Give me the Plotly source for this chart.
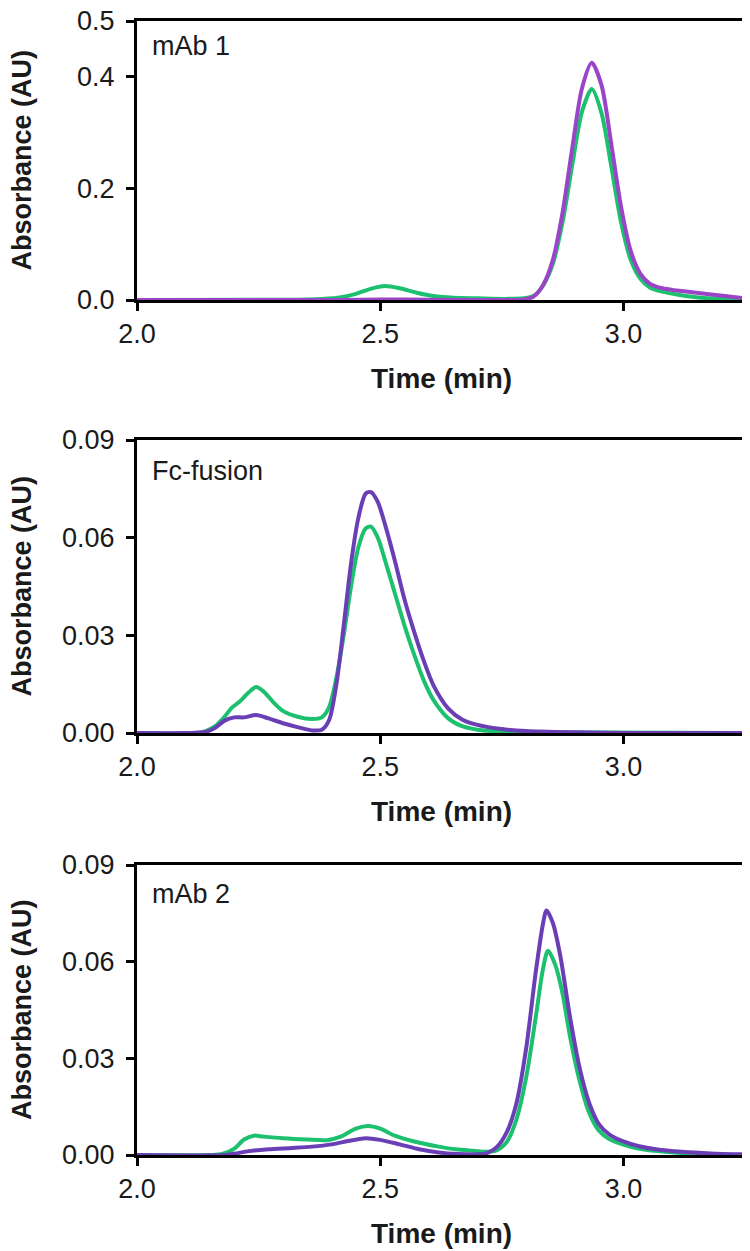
import plotly.graph_objects as go

# ---------------- data ----------------
panel_names = ["mAb 1", "Fc-fusion", "mAb 2"]

x_tickvals = [2.0, 2.5, 3.0]
x_ticktext = ["2.0", "2.5", "3.0"]
y1_tickvals = [0.0, 0.2, 0.4, 0.5]
y1_ticktext = ["0.0", "0.2", "0.4", "0.5"]
y23_tickvals = [0.0, 0.03, 0.06, 0.09]
y23_ticktext = ["0.00", "0.03", "0.06", "0.09"]

# Panel 1: mAb 1
p1_green_t = [2.00, 2.30, 2.38, 2.42, 2.45, 2.48, 2.51, 2.54, 2.575, 2.61, 2.65, 2.70, 2.76,
              2.795, 2.815, 2.835, 2.855, 2.875, 2.895, 2.915, 2.935, 2.955, 2.975, 2.995,
              3.015, 3.035, 3.055, 3.08, 3.11, 3.15, 3.20, 3.25]
p1_green_v = [0.0, 0.0005, 0.002, 0.005, 0.011, 0.020, 0.025, 0.021, 0.013, 0.007, 0.004, 0.003, 0.002,
              0.003, 0.007, 0.026, 0.065, 0.14, 0.243, 0.338, 0.378, 0.335, 0.24, 0.14,
              0.072, 0.038, 0.022, 0.015, 0.010, 0.005, 0.002, 0.001]
p1_purple_t = [2.00, 2.40, 2.50, 2.60, 2.75, 2.795, 2.815, 2.835, 2.855, 2.875, 2.895, 2.915,
               2.935, 2.955, 2.975, 2.995, 3.015, 3.035, 3.055, 3.08, 3.11, 3.15, 3.20, 3.25]
p1_purple_v = [0.0, 0.0, 0.001, 0.0005, 0.0, 0.001, 0.006, 0.027, 0.072, 0.157, 0.273, 0.38,
               0.425, 0.385, 0.28, 0.168, 0.088, 0.047, 0.029, 0.021, 0.017, 0.013, 0.008, 0.003]

# Panel 2: Fc-fusion
p2_green_t = [2.00, 2.12, 2.14, 2.16, 2.18, 2.195, 2.21, 2.23, 2.245, 2.26, 2.28, 2.30, 2.33, 2.36,
              2.38, 2.395, 2.41, 2.425, 2.44, 2.455, 2.47, 2.481, 2.495, 2.51, 2.53, 2.55, 2.57,
              2.59, 2.61, 2.64, 2.67, 2.70, 2.75, 2.80, 3.25]
p2_green_v = [0.0, 0.0, 0.0005, 0.002, 0.005, 0.0078, 0.0095, 0.0125, 0.0141, 0.0128, 0.0095, 0.0068,
              0.005, 0.0043, 0.0048, 0.008, 0.017, 0.030, 0.045, 0.057, 0.0628, 0.0634, 0.060, 0.053,
              0.043, 0.033, 0.024, 0.016, 0.010, 0.0045, 0.002, 0.001, 0.0004, 0.0002, 0.0]
p2_purple_t = [2.00, 2.10, 2.14, 2.16, 2.18, 2.20, 2.22, 2.245, 2.27, 2.30, 2.33, 2.36, 2.38, 2.395,
               2.41, 2.425, 2.44, 2.455, 2.47, 2.481, 2.495, 2.51, 2.53, 2.55, 2.57, 2.59, 2.61,
               2.64, 2.67, 2.70, 2.75, 2.80, 2.90, 3.00, 3.25]
p2_purple_v = [0.0, 0.0, 0.0003, 0.0015, 0.0038, 0.0048, 0.0048, 0.0055, 0.0045, 0.003, 0.0018, 0.0008,
               0.001, 0.004, 0.015, 0.033, 0.052, 0.066, 0.0735, 0.074, 0.071, 0.064, 0.053, 0.041,
               0.031, 0.022, 0.0145, 0.0075, 0.004, 0.0025, 0.0012, 0.0006, 0.0002, 0.0, 0.0]

# Panel 3: mAb 2
p3_green_t = [2.00, 2.15, 2.175, 2.20, 2.22, 2.24, 2.26, 2.30, 2.35, 2.39, 2.42, 2.45, 2.475, 2.50,
              2.53, 2.57, 2.62, 2.66, 2.70, 2.72, 2.74, 2.76, 2.78, 2.80, 2.82, 2.835, 2.845, 2.86,
              2.875, 2.89, 2.91, 2.93, 2.95, 2.97, 3.00, 3.03, 3.07, 3.12, 3.18, 3.25]
p3_green_v = [0.0, 0.0, 0.0003, 0.002, 0.0048, 0.006, 0.0057, 0.0052, 0.0048, 0.0046, 0.0058, 0.0082,
              0.009, 0.0082, 0.006, 0.0042, 0.0026, 0.0017, 0.0012, 0.001, 0.0015, 0.004, 0.011, 0.024,
              0.043, 0.058, 0.0634, 0.059, 0.050, 0.037, 0.023, 0.013, 0.0075, 0.005, 0.0032, 0.002,
              0.0012, 0.0006, 0.0002, 0.0]
p3_purple_t = [2.00, 2.18, 2.20, 2.23, 2.27, 2.32, 2.36, 2.40, 2.44, 2.47, 2.50, 2.54, 2.58, 2.62,
               2.66, 2.70, 2.72, 2.74, 2.76, 2.78, 2.80, 2.82, 2.835, 2.842, 2.855, 2.87, 2.89, 2.91,
               2.93, 2.95, 2.97, 3.00, 3.03, 3.07, 3.12, 3.18, 3.25]
p3_purple_v = [0.0, 0.0, 0.0004, 0.0012, 0.0018, 0.0022, 0.0026, 0.0033, 0.0045, 0.0052, 0.0047, 0.0033,
               0.0018, 0.0008, 0.0003, 0.0002, 0.0006, 0.0025, 0.007, 0.016, 0.033, 0.057, 0.072,
               0.0759, 0.072, 0.062, 0.043, 0.027, 0.016, 0.0095, 0.0065, 0.0042, 0.0028, 0.0017,
               0.001, 0.0005, 0.0002]

# ---------------- style ----------------
GREEN = "#1DC06E"
PURPLE_1 = "#9A44C8"
PURPLE_2 = "#6A3FB6"
FONT = "Liberation Sans, Arial, sans-serif"
OFF = 8                      # page body margin that offsets the figure
W, H = 750 - OFF, 1251 - OFF

# page-pixel geometry of the three plot areas (top, bottom)
x_left, x_right = 137, 745
panels_px = [(21, 300), (440, 733), (865, 1155)]

def px_x(p):
    return (p - OFF) / W

def px_y(p):
    return 1 - (p - OFF) / H

fig = go.Figure()

series = [
    (p1_green_t, p1_green_v, p1_purple_t, p1_purple_v, PURPLE_1),
    (p2_green_t, p2_green_v, p2_purple_t, p2_purple_v, PURPLE_2),
    (p3_green_t, p3_green_v, p3_purple_t, p3_purple_v, PURPLE_2),
]

annotations = []
for i, (gt, gv, pt, pv, pcol) in enumerate(series):
    n = "" if i == 0 else str(i + 1)
    xa, ya = "x" + n, "y" + n
    fig.add_trace(go.Scatter(x=gt, y=gv, mode="lines", xaxis=xa, yaxis=ya,
                             line=dict(color=GREEN, width=4, shape="spline", smoothing=0.8),
                             showlegend=False, hoverinfo="skip"))
    fig.add_trace(go.Scatter(x=pt, y=pv, mode="lines", xaxis=xa, yaxis=ya,
                             line=dict(color=pcol, width=4, shape="spline", smoothing=0.8),
                             showlegend=False, hoverinfo="skip"))
    top, bot = panels_px[i]
    common = dict(showline=True, linecolor="black", linewidth=3, mirror=True,
                  ticks="outside", ticklen=8, tickwidth=3, tickcolor="black",
                  showgrid=False, zeroline=False, automargin=False,
                  ticklabeloverflow="allow",
                  tickfont=dict(family=FONT, size=27, color="#1a1a1a"))
    fig.update_layout(**{
        "xaxis" + n: dict(domain=[px_x(x_left), px_x(x_right)], range=[2.0, 3.25],
                          tickvals=x_tickvals, ticktext=x_ticktext, anchor=ya,
                          ticklabelstandoff=0, **common),
        "yaxis" + n: dict(domain=[px_y(bot), px_y(top)],
                          range=[0, 0.5] if i == 0 else [0, 0.09],
                          tickvals=y1_tickvals if i == 0 else y23_tickvals,
                          ticktext=y1_ticktext if i == 0 else y23_ticktext,
                          anchor=xa, ticklabelstandoff=6, **common),
    })
    # panel label
    label_y = [46, 471, 894][i]
    annotations.append(dict(text=panel_names[i], xref="paper", yref="paper",
                            x=px_x(150), y=px_y(label_y), xanchor="left", yanchor="middle",
                            showarrow=False, font=dict(family=FONT, size=27, color="#1a1a1a")))
    # x axis title
    annotations.append(dict(text="<b>Time (min)</b>", xref="paper", yref="paper",
                            x=px_x((x_left + x_right) / 2), y=px_y(bot + 78),
                            xanchor="center", yanchor="middle", showarrow=False,
                            font=dict(family=FONT, size=28, color="#1a1a1a")))
    # y axis title
    annotations.append(dict(text="<b>Absorbance (AU)</b>", xref="paper", yref="paper",
                            x=px_x(22), y=px_y((top + bot) / 2), textangle=-90,
                            xanchor="center", yanchor="middle", showarrow=False,
                            font=dict(family=FONT, size=27, color="#1a1a1a")))

fig.update_layout(width=W, height=H, margin=dict(l=0, r=0, t=0, b=0),
                  paper_bgcolor="white", plot_bgcolor="white", template="none",
                  annotations=annotations, showlegend=False)

fig.write_html("out.html")
